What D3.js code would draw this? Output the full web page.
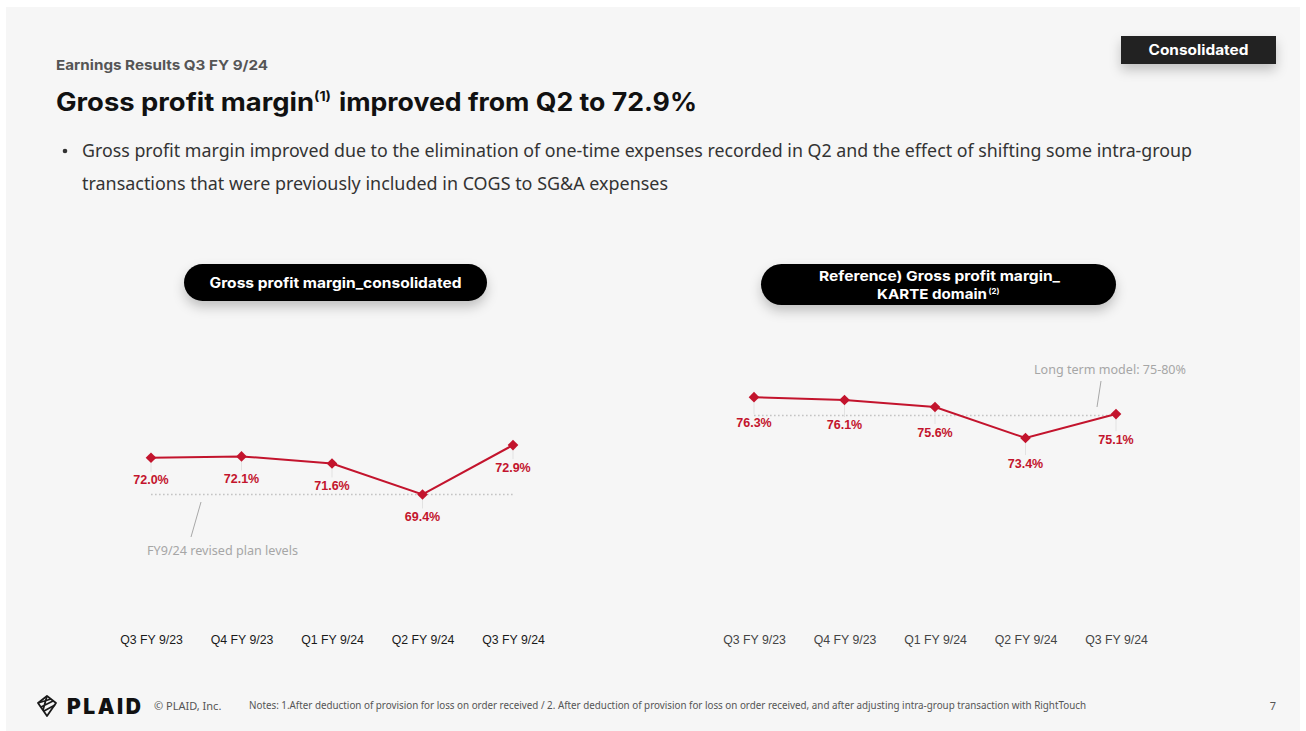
<!DOCTYPE html>
<html>
<head>
<meta charset="utf-8">
<script src="https://cdn.jsdelivr.net/npm/d3@7"></script>
<style>
  html, body { margin: 0; padding: 0; background: #ffffff; }
  svg { display: block; }
</style>
</head>
<body>
<svg id="slide" width="1306" height="731"></svg>
<script>
// Quarters shown on both x axes
const quarters = ["Q3 FY 9/23", "Q4 FY 9/23", "Q1 FY 9/24", "Q2 FY 9/24", "Q3 FY 9/24"];
// Gross profit margin (%), consolidated
const consolidatedMargin = [72.0, 72.1, 71.6, 69.4, 72.9];
// Gross profit margin (%), KARTE domain
const karteMargin = [76.3, 76.1, 75.6, 73.4, 75.1];
// Reference levels drawn as dotted lines
const planLevel = 69.4;       // FY9/24 revised plan
const longTermModel = 75.0;   // lower bound of long term model
const marginDomain = [60, 80];

const svg = d3.select("#slide");
const RED = "#c3142d";
const HEAD = "Inter, 'Open Sans', sans-serif";
const ARIAL = "'Liberation Sans', Arial, sans-serif";
const BODY = "'Noto Sans', 'Open Sans', sans-serif";

const defs = svg.append("defs");
const sh = defs.append("filter").attr("id", "shadow").attr("x", "-20%").attr("y", "-60%").attr("width", "140%").attr("height", "240%");
sh.append("feDropShadow").attr("dx", 0).attr("dy", 6).attr("stdDeviation", 6).attr("flood-color", "#000").attr("flood-opacity", 0.22);

// helper: bold heading text stretched to a set width
function headText(sel, x, yy, size, len, anchor) {
  return sel.append("text").attr("x", x).attr("y", yy).attr("font-family", HEAD).attr("font-weight", 700)
    .attr("font-size", size).attr("text-anchor", anchor || "start")
    .attr("textLength", len).attr("lengthAdjust", "spacingAndGlyphs");
}

// page panel
svg.append("rect").attr("x", 6).attr("y", 7).attr("width", 1294).attr("height", 724).attr("fill", "#f6f6f6");

// header
headText(svg, 56, 70, 13.5, 212).attr("fill", "#555").text("Earnings Results Q3 FY 9/24");

const title = svg.append("g").attr("fill", "#111");
headText(title, 56, 111, 25, 258).text("Gross profit margin");
headText(title, 314, 101, 13, 17).text("(1)");
headText(title, 339, 111, 25, 358).text("improved from Q2 to 72.9%");

svg.append("circle").attr("cx", 65).attr("cy", 151).attr("r", 2.3).attr("fill", "#333");
const bullet = ["Gross profit margin improved due to the elimination of one-time expenses recorded in Q2 and the effect of shifting some intra-group",
                "transactions that were previously included in COGS to SG&A expenses"];
bullet.forEach((t, i) => {
  svg.append("text").attr("x", 82).attr("y", 157 + i * 33).attr("font-family", BODY)
    .attr("font-size", 18.2).attr("fill", "#333").attr("textLength", i === 0 ? 1110 : 586).attr("lengthAdjust", "spacingAndGlyphs").text(t);
});

// "Consolidated" badge
svg.append("rect").attr("x", 1121).attr("y", 36).attr("width", 155).attr("height", 28).attr("fill", "#222").attr("filter", "url(#shadow)");
headText(svg, 1198.5, 55, 14, 100, "middle").attr("fill", "#fff").text("Consolidated");

// shared vertical scale for both panels
const y = d3.scaleLinear().domain(marginDomain).range([627, 345]);

function panel(opts) {
  const g = svg.append("g");
  const x = d3.scalePoint().domain(quarters).range(opts.xRange);

  // title pill
  g.append("rect").attr("x", opts.pill[0]).attr("y", opts.pill[1]).attr("width", opts.pill[2]).attr("height", opts.pill[3])
    .attr("rx", opts.pill[3] / 2).attr("fill", "#000").attr("filter", "url(#shadow)");
  opts.pillText(g);

  // category axis (labels only)
  const axis = g.append("g").attr("transform", "translate(0,635)")
    .call(d3.axisBottom(x).tickSize(0).tickPadding(0));
  axis.select(".domain").remove();
  axis.selectAll("text").attr("font-family", ARIAL).attr("font-size", 12.3).attr("fill", opts.axisColor).attr("dy", "0.71em");

  const data = quarters.map((q, i) => ({ q, v: opts.values[i] }));

  // reference dotted line
  g.append("line").attr("x1", x(quarters[0])).attr("x2", x(quarters[4]))
    .attr("y1", y(opts.ref)).attr("y2", y(opts.ref))
    .attr("stroke", "#c4c4c4").attr("stroke-width", 1.6).attr("stroke-dasharray", "1.6,2.4");

  // faint leaders from markers to labels
  g.selectAll(".lead").data(data).join("line")
    .attr("x1", d => x(d.q)).attr("x2", d => x(d.q))
    .attr("y1", d => y(d.v) + 5).attr("y2", d => y(d.v) + opts.labelOffset - 8)
    .attr("stroke", "#e2e2e2").attr("stroke-width", 1);

  g.append("path").datum(data)
    .attr("d", d3.line().x(d => x(d.q)).y(d => y(d.v)))
    .attr("fill", "none").attr("stroke", RED).attr("stroke-width", 2);

  g.selectAll(".mk").data(data).join("path")
    .attr("d", d3.symbol(d3.symbolDiamond2, 72))
    .attr("transform", d => `translate(${x(d.q)},${y(d.v)})`)
    .attr("fill", RED);

  g.selectAll(".lbl").data(data).join("text")
    .attr("x", d => x(d.q)).attr("y", d => y(d.v) + opts.labelOffset + 4.5)
    .attr("text-anchor", "middle").attr("font-family", ARIAL).attr("font-weight", 700)
    .attr("font-size", 12.5).attr("fill", RED)
    .text(d => d.v.toFixed(1) + "%");

  opts.annotate(g, x);
}

panel({
  xRange: [151, 513],
  values: consolidatedMargin,
  ref: planLevel,
  labelOffset: 22,
  axisColor: "#1a1a1a",
  pill: [184, 264, 303, 37],
  pillText: g => headText(g, 335.5, 287.5, 14, 252, "middle").attr("fill", "#fff")
    .text("Gross profit margin_consolidated"),
  annotate: (g) => {
    g.append("line").attr("x1", 201).attr("y1", 502).attr("x2", 191).attr("y2", 537).attr("stroke", "#a8a8a8").attr("stroke-width", 1);
    g.append("text").attr("x", 147).attr("y", 555).attr("font-family", BODY).attr("font-size", 13)
      .attr("fill", "#a6a6a6").attr("textLength", 151).attr("lengthAdjust", "spacingAndGlyphs").text("FY9/24 revised plan levels");
  }
});

panel({
  xRange: [754, 1116],
  values: karteMargin,
  ref: longTermModel,
  labelOffset: 25,
  axisColor: "#444",
  pill: [761, 264, 355, 41],
  pillText: g => {
    headText(g, 939.5, 281, 13.5, 241, "middle").attr("fill", "#fff").text("Reference) Gross profit margin_");
    headText(g, 932, 299, 13.5, 110, "middle").attr("fill", "#fff").text("KARTE domain");
    headText(g, 994, 294, 8, 11, "middle").attr("fill", "#fff").text("(2)");
  },
  annotate: (g) => {
    g.append("line").attr("x1", 1101).attr("y1", 381).attr("x2", 1097).attr("y2", 407).attr("stroke", "#a8a8a8").attr("stroke-width", 1);
    g.append("text").attr("x", 1034).attr("y", 374).attr("font-family", BODY).attr("font-size", 13)
      .attr("fill", "#a6a6a6").attr("textLength", 152).attr("lengthAdjust", "spacingAndGlyphs").text("Long term model: 75-80%");
  }
});

// footer: logo mark
const logo = svg.append("g").attr("transform", "translate(47,706)").attr("fill", "none").attr("stroke", "#1a1a1a").attr("stroke-width", 1.8).attr("stroke-linejoin", "round");
logo.append("path").attr("d", "M0,-10 L9,-3 L0,10 L-9,-3 Z");
logo.append("path").attr("d", "M-9,-3 L4,-7 M-6,1 L6,-5 M-3,5 L8,-1 M0,-10 L-4,4");
svg.append("text").attr("x", 67).attr("y", 714).attr("font-family", HEAD).attr("font-weight", 900)
  .attr("font-size", 21).attr("fill", "#111").attr("textLength", 74).attr("lengthAdjust", "spacing").text("PLAID");
svg.append("text").attr("x", 154).attr("y", 710).attr("font-family", BODY).attr("font-size", 11)
  .attr("fill", "#555").text("© PLAID, Inc.");
svg.append("text").attr("x", 249).attr("y", 709).attr("font-family", BODY).attr("font-size", 10)
  .attr("fill", "#555").attr("textLength", 837).attr("lengthAdjust", "spacingAndGlyphs")
  .text("Notes: 1.After deduction of provision for loss on order received / 2. After deduction of provision for loss on order received, and after adjusting intra-group transaction with RightTouch");
svg.append("text").attr("x", 1273).attr("y", 710).attr("text-anchor", "middle").attr("font-family", BODY).attr("font-size", 11)
  .attr("fill", "#555").text("7");
</script>
</body>
</html>
